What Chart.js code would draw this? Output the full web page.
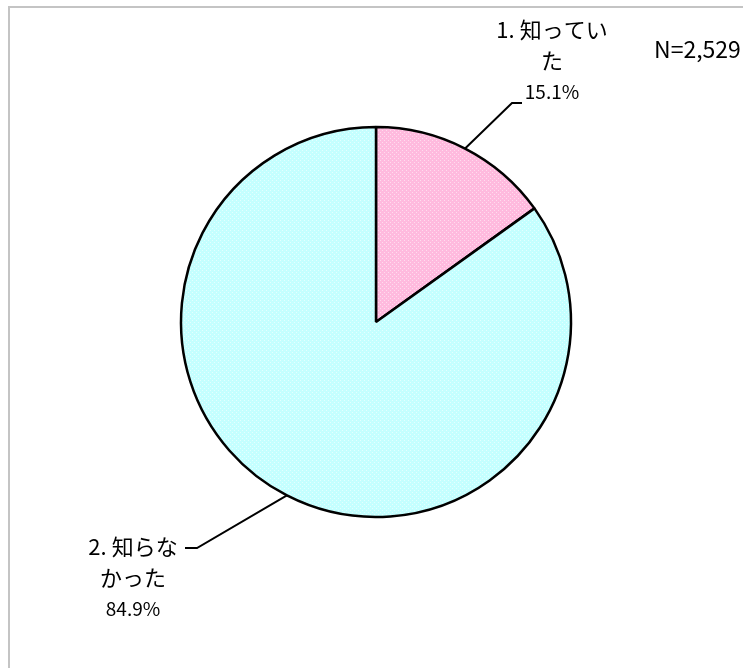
<!DOCTYPE html>
<html>
<head>
<meta charset="utf-8">
<script src="https://cdn.jsdelivr.net/npm/chart.js"></script>
<style>
  html, body { margin: 0; padding: 0; background: #fff; }
  #wrap { position: relative; width: 743px; height: 668px; overflow: hidden; }
</style>
</head>
<body>
<div id="wrap"><canvas id="pieChart" width="743" height="668"></canvas></div>

<script>
  // data
  const categories = ['1. 知っていた', '2. 知らなかった'];
  const labelLines = [['1. 知ってい', 'た', '15.1%'], ['2. 知らな', 'かった', '84.9%']];
  const shares = [15.1, 84.9];
  const totalText = 'N=2,529';

  const FONT = '"Noto Sans CJK JP", "Noto Sans", sans-serif';

  // small dotted tile like the Excel pattern fill
  function dotPattern(base, dot) {
    const c = document.createElement('canvas');
    c.width = 4; c.height = 4;
    const g = c.getContext('2d');
    g.fillStyle = base;
    g.fillRect(0, 0, 4, 4);
    g.fillStyle = dot;
    g.fillRect(0, 0, 1, 1);
    g.fillRect(2, 2, 1, 1);
    return g.createPattern(c, 'repeat');
  }

  // label placement: elbow of the leader line and the text block
  const labelSpots = [
    { elbow: [512, 103], end: [522, 103], x: 552, y: 30 },
    { elbow: [197, 548], end: [185, 548], x: 133, y: 547 }
  ];

  const framePlugin = {
    id: 'frame',
    beforeDraw(chart) {
      const ctx = chart.ctx;
      ctx.save();
      ctx.fillStyle = '#c4c4c4';
      ctx.fillRect(8, 6, 735, 2);
      ctx.fillRect(8, 6, 2, 662);
      ctx.restore();
    }
  };

  const labelPlugin = {
    id: 'pieLabels',
    afterDraw(chart) {
      const ctx = chart.ctx;
      const meta = chart.getDatasetMeta(0);
      ctx.save();
      ctx.strokeStyle = '#000';
      ctx.lineWidth = 2;
      meta.data.forEach((arc, i) => {
        const mid = (arc.startAngle + arc.endAngle) / 2;
        const sx = arc.x + Math.cos(mid) * arc.outerRadius;
        const sy = arc.y + Math.sin(mid) * arc.outerRadius;
        const spot = labelSpots[i];
        ctx.beginPath();
        ctx.moveTo(sx, sy);
        ctx.lineTo(spot.elbow[0], spot.elbow[1]);
        ctx.lineTo(spot.end[0], spot.end[1]);
        ctx.stroke();

        ctx.fillStyle = '#000';
        ctx.textAlign = 'center';
        ctx.textBaseline = 'middle';
        labelLines[i].forEach((t, k) => {
          ctx.font = (k === 2 ? '19px ' : '22px ') + FONT;
          ctx.fillText(t, spot.x, spot.y + k * 31);
        });
      });
      ctx.font = '23px ' + FONT;
      ctx.textAlign = 'left';
      ctx.textBaseline = 'middle';
      ctx.fillText(totalText, 654, 49);
      ctx.restore();
    }
  };

  const ctx = document.getElementById('pieChart').getContext('2d');
  new Chart(ctx, {
    type: 'pie',
    data: {
      labels: categories,
      datasets: [{
        data: shares,
        backgroundColor: [dotPattern('#ffbade', '#ffdcee'), dotPattern('#c4ffff', '#e4ffff')],
        borderColor: '#000',
        borderWidth: 2.5
      }]
    },
    options: {
      responsive: false,
      animation: false,
      radius: 195,
      layout: { padding: { left: 9, right: 0, top: 0, bottom: 24 } },
      plugins: {
        legend: { display: false },
        tooltip: { enabled: false }
      }
    },
    plugins: [framePlugin, labelPlugin]
  });
</script>
</body>
</html>
